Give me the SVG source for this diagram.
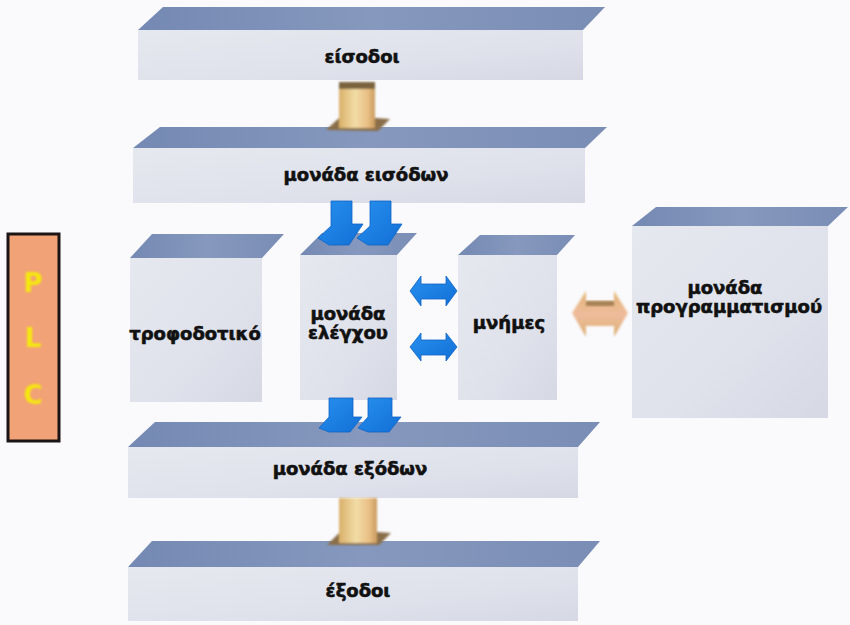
<svg xmlns="http://www.w3.org/2000/svg" width="850" height="625" viewBox="0 0 850 625">
  <defs>
    <linearGradient id="topFace" x1="0" y1="0" x2="1" y2="0">
      <stop offset="0" stop-color="#7489b3"/>
      <stop offset="0.5" stop-color="#8698bd"/>
      <stop offset="1" stop-color="#7a8db5"/>
    </linearGradient>
    <linearGradient id="frontFace" x1="0" y1="0" x2="1" y2="1">
      <stop offset="0" stop-color="#e6e8ef"/>
      <stop offset="0.6" stop-color="#dfe2eb"/>
      <stop offset="1" stop-color="#d6d9e4"/>
    </linearGradient>
    <linearGradient id="tanShaft" x1="0" y1="0" x2="1" y2="0">
      <stop offset="0" stop-color="#d9b06a"/>
      <stop offset="0.45" stop-color="#f2dca6"/>
      <stop offset="0.8" stop-color="#e9bf85"/>
      <stop offset="1" stop-color="#c99a5e"/>
    </linearGradient>
    <linearGradient id="tanSide" x1="0" y1="0" x2="0" y2="1">
      <stop offset="0" stop-color="#e0ad64"/>
      <stop offset="0.5" stop-color="#eeb692"/>
      <stop offset="1" stop-color="#d9a865"/>
    </linearGradient>
    <linearGradient id="blueFill" x1="0" y1="0" x2="1" y2="1">
      <stop offset="0" stop-color="#2690ee"/>
      <stop offset="1" stop-color="#136fd6"/>
    </linearGradient>
    <filter id="soft" x="-20%" y="-20%" width="140%" height="140%">
      <feGaussianBlur stdDeviation="0.8"/>
    </filter>
    <filter id="softer" x="-20%" y="-20%" width="140%" height="140%">
      <feGaussianBlur stdDeviation="1.2"/>
    </filter>
  </defs>
  <style>
    .top { fill: url(#topFace); }
    .front { fill: url(#frontFace); }
    .label { font-family: "DejaVu Sans", "Noto Sans", sans-serif; font-weight: bold; font-size: 18px; fill: #111; stroke: #111; stroke-width: 0.6; text-anchor: middle; }
    .blue { fill: url(#blueFill); stroke: #0f63c4; stroke-width: 0.8; stroke-linejoin: round; }
    .plc { font-family: "DejaVu Sans", "Liberation Sans", sans-serif; font-weight: bold; font-size: 26px; fill: #f5e80e; text-anchor: middle; }
  </style>

  <rect x="0" y="0" width="850" height="625" fill="#fafafc"/>

  <!-- PLC side label -->
  <g id="plc">
    <rect x="8" y="234" width="51" height="207" fill="#f2a277" stroke="#1a1414" stroke-width="3"/>
    <g filter="url(#soft)">
      <text class="plc" x="33" y="292">P</text>
      <text class="plc" x="33" y="347">L</text>
      <text class="plc" x="33" y="404">C</text>
    </g>
  </g>

  <!-- inputs bar -->
  <g id="inputs">
    <polygon class="top" points="138,30 583,30 605,7 163,7"/>
    <rect class="front" x="138" y="30" width="445" height="50"/>
    <text class="label" x="362" y="63">είσοδοι</text>
  </g>

  <!-- input unit bar -->
  <g id="input-unit">
    <polygon class="top" points="133,148 585,148 607,127 160,127"/>
    <rect class="front" x="133" y="148" width="452" height="55"/>
    <text class="label" x="366" y="181" font-size="19">μονάδα εισόδων</text>
  </g>

  <!-- power supply block -->
  <g id="power-supply">
    <polygon class="top" points="130,258 262,258 284,234 152,234"/>
    <rect class="front" x="130" y="258" width="132" height="144"/>
    <text class="label" x="195" y="340">τροφοδοτικό</text>
  </g>

  <!-- control unit block -->
  <g id="control-unit">
    <polygon class="top" points="300,255 397,255 417,233 322,233"/>
    <rect class="front" x="300" y="255" width="97" height="145"/>
    <text class="label" x="348" y="320">μονάδα</text>
    <text class="label" x="348" y="339">ελέγχου</text>
  </g>

  <!-- memory block -->
  <g id="memory">
    <polygon class="top" points="458,255 557,255 575,235 480,235"/>
    <rect class="front" x="458" y="255" width="99" height="145"/>
    <text class="label" x="509" y="329">μνήμες</text>
  </g>

  <!-- programming unit block -->
  <g id="programming-unit">
    <polygon class="top" points="632,226 828,226 848,207 656,207"/>
    <rect class="front" x="632" y="226" width="196" height="192"/>
    <text class="label" x="725" y="294">μονάδα</text>
    <text class="label" x="729" y="313">προγραμματισμού</text>
  </g>

  <!-- output unit bar -->
  <g id="output-unit">
    <polygon class="top" points="128,447 578,447 600,422 155,422"/>
    <rect class="front" x="128" y="447" width="450" height="51"/>
    <text class="label" x="350" y="475" font-size="19">μονάδα εξόδων</text>
  </g>

  <!-- outputs bar -->
  <g id="outputs">
    <polygon class="top" points="128,567 578,567 600,541 152,541"/>
    <rect class="front" x="128" y="567" width="450" height="54"/>
    <text class="label" x="358" y="597">έξοδοι</text>
  </g>

  <!-- connectors -->
  <g id="connectors">
    <!-- inputs to input unit -->
    <g filter="url(#soft)">
      <polygon points="326,130 339,118 376,118 390,119 378,131" fill="#8a6e48"/>
      <rect x="339" y="84" width="36" height="44" fill="url(#tanShaft)"/>
      <rect x="339" y="82" width="36" height="7" fill="#7c6440"/>
    </g>
    <!-- input unit to control unit -->
    <path class="blue" d="M331,201 H352 V224 H363 L349,245 H329 L318,238 L331,226 Z"/>
    <path class="blue" d="M370,201 H391 V224 H402 L388,245 H368 L357,238 L370,226 Z"/>
    <!-- control unit to memory -->
    <polygon class="blue" points="410,291 421,276 421,284 446,284 446,276 457,291 446,306 446,299 421,299 421,306"/>
    <polygon class="blue" points="410,347 421,333 421,340 446,340 446,333 457,347 446,361 446,355 421,355 421,361"/>
    <!-- memory to programming unit -->
    <polygon filter="url(#softer)" points="572,313 586,291 586,301 614,301 614,291 628,313 614,337 614,326 586,326 586,337" fill="url(#tanSide)" opacity="0.9"/>
    <rect filter="url(#softer)" x="586" y="301" width="28" height="5" fill="#8a6a40" opacity="0.7"/>
    <!-- control unit to output unit -->
    <path class="blue" d="M329,398 H353 V417 H362 L350,432 H329 L319,428 L329,417 Z"/>
    <path class="blue" d="M368,398 H392 V417 H401 L389,432 H368 L358,428 L368,417 Z"/>
    <!-- output unit to outputs -->
    <g filter="url(#soft)">
      <polygon points="327,545 340,532 377,532 391,533 379,545" fill="#8a6e48"/>
      <rect x="339" y="498" width="38" height="45" fill="url(#tanShaft)"/>
    </g>
  </g>
</svg>
